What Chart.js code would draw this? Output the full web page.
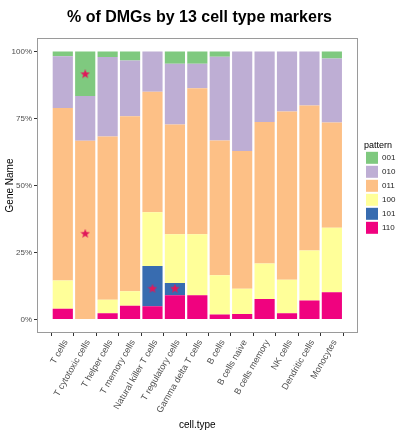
<!DOCTYPE html>
<html>
<head>
<meta charset="utf-8">
<script src="https://cdn.jsdelivr.net/npm/chart.js@4/dist/chart.umd.min.js"></script>
<style>
html,body{margin:0;padding:0;background:#fff;}
#wrap{width:400px;height:434px;position:relative;}
</style>
</head>
<body>
<div id="wrap"><canvas id="c" width="400" height="434"></canvas></div>
<script>
// ---- data ----
const categories = ["T cells","T cytotoxic cells","T helper cells","T memory cells","Natural killer T cells","T regulatory cells","Gamma delta T cells","B cells","B cells naive","B cells memory","NK cells","Dendritic cells","Monocytes"];
const patterns = ["110","101","100","011","010","001"]; // bottom to top
const p110 = [4.0, 0, 2.4, 5.2, 5.0, 9.1, 9.1, 1.9, 2.1, 7.7, 2.4, 7.1, 10.2];
const p101 = [0, 0, 0, 0, 15.0, 4.5, 0, 0, 0, 0, 0, 0, 0];
const p100 = [10.6, 0, 5.0, 5.4, 20.0, 18.2, 22.7, 14.6, 9.4, 13.2, 12.5, 18.7, 24.0];
const p011 = [64.3, 66.7, 60.9, 65.2, 45.0, 40.9, 54.5, 50.3, 51.4, 52.8, 62.7, 54.0, 39.3];
const p010 = [19.3, 16.7, 29.6, 20.8, 15.0, 22.7, 9.1, 31.2, 37.1, 26.3, 22.4, 20.2, 23.9];
const p001 = [1.8, 16.6, 2.1, 3.4, 0, 4.6, 4.6, 2.0, 0, 0, 0, 0, 2.6];
const starCategory = [2, 2, 5, 6];
const starValue = [91.5, 32, 11.5, 11.5];
const yTicks = [0, 25, 50, 75, 100];

const colors = {"001":"#7FC97F","010":"#BEAED4","011":"#FDC086","100":"#FFFF99","101":"#386CB0","110":"#F0027F"};
const series = {"110":p110,"101":p101,"100":p100,"011":p011,"010":p010,"001":p001};

// star marker
function makeStar(size, color){
  const c = document.createElement('canvas');
  c.width = size; c.height = size;
  const x = c.getContext('2d');
  const cx = size/2, cy = size/2, R = size/2, r = R*0.42;
  x.beginPath();
  for(let i=0;i<10;i++){
    const a = -Math.PI/2 + i*Math.PI/5;
    const rr = i%2===0 ? R : r;
    x.lineTo(cx + rr*Math.cos(a), cy + rr*Math.sin(a));
  }
  x.closePath();
  x.fillStyle = color; x.fill();
  return c;
}
const starImg = makeStar(10, '#E0185A');

const datasets = patterns.map(p => ({
  type: 'bar',
  label: p,
  data: series[p].map((v,i)=>({x:i+1, y:v})),
  backgroundColor: colors[p],
  borderWidth: 0,
  barPercentage: 0.9,
  categoryPercentage: 1.0,
  stack: 'main'
}));
datasets.push({
  type: 'scatter',
  label: 'star',
  data: starCategory.map((c,i)=>({x:c, y:starValue[i]})),
  pointStyle: starImg,
  pointRadius: 5,
  stack: 'stars',
  order: -1
});

const panelBorder = {
  id: 'panelBorder',
  afterDatasetsDraw(chart){
    const a = chart.chartArea, ctx = chart.ctx;
    ctx.save();
    ctx.strokeStyle = '#9a9a9a';
    ctx.lineWidth = 1;
    ctx.strokeRect(Math.round(a.left)+0.5, Math.round(a.top)+0.5, Math.round(a.right-a.left)-1, Math.round(a.bottom-a.top)-1);
    ctx.restore();
  }
};
const legendPlace = {
  id: 'legendPlace',
  afterLayout(chart){
    const lg = chart.legend;
    if(!lg) return;
    lg.left = 364; lg.width = 36; lg.right = 400;
    lg.top = 136;
  }
};

new Chart(document.getElementById('c'), {
  data: { datasets },
  plugins: [panelBorder, legendPlace],
  options: {
    responsive: false,
    animation: false,
    layout: { padding: { left: 0, right: 1, top: 0, bottom: 0 } },
    plugins: {
      title: {
        display: true,
        text: '% of DMGs by 13 cell type markers',
        color: '#000',
        font: { family: 'Liberation Sans, Arial, sans-serif', size: 16, weight: 'bold' },
        padding: { top: 8, bottom: 10.8 }
      },
      legend: {
        display: true,
        position: 'right',
        align: 'start',
        reverse: true,
        title: { display: true, position: 'start', text: 'pattern', color: '#000', font: { family: 'Liberation Sans, Arial, sans-serif', size: 9 }, padding: { top: 5, bottom: -2 } },
        labels: {
          boxWidth: 12, boxHeight: 12, padding: 2,
          color: '#222',
          font: { family: 'Liberation Sans, Arial, sans-serif', size: 8 },
          filter: (item) => item.text !== 'star'
        }
      },
      tooltip: { enabled: false }
    },
    scales: {
      x: {
        type: 'linear',
        min: 0.4, max: 13.6,
        stacked: true,
        afterBuildTicks(scale){ scale.ticks = categories.map((c,i)=>({value:i+1})); },
        afterFit(scale){ scale.height = 101; },
        ticks: {
          autoSkip: false,
          minRotation: 60, maxRotation: 60,
          padding: 2,
          labelOffset: 3,
          color: '#4D4D4D',
          font: { family: 'Liberation Sans, Arial, sans-serif', size: 9 },
          callback: (v) => categories[Math.round(v)-1]
        },
        grid: { drawOnChartArea: false, drawTicks: true, tickLength: 3, color: '#333' },
        border: { display: false },
        title: { display: true, text: 'cell.type', color: '#000', font: { family: 'Liberation Sans, Arial, sans-serif', size: 10 }, padding: { top: 0, bottom: 3 } }
      },
      y: {
        type: 'linear',
        min: -5, max: 105,
        stacked: true,
        afterBuildTicks(scale){ scale.ticks = yTicks.map(v=>({value:v})); },
        afterFit(scale){ scale.width = 37; },
        ticks: {
          padding: 2,
          color: '#4D4D4D',
          font: { family: 'Liberation Sans, Arial, sans-serif', size: 8 },
          callback: (v) => v + '%'
        },
        grid: { drawOnChartArea: false, drawTicks: true, tickLength: 3, color: '#333' },
        border: { display: false },
        title: { display: true, text: 'Gene Name', color: '#000', font: { family: 'Liberation Sans, Arial, sans-serif', size: 10 }, padding: { top: 4, bottom: 0 } }
      }
    }
  }
});
</script>
</body>
</html>
